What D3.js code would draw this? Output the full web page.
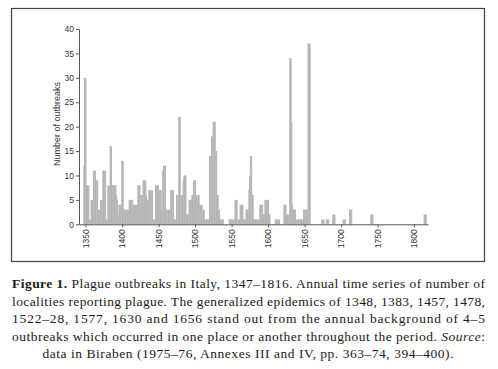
<!DOCTYPE html>
<html>
<head>
<meta charset="utf-8">
<script src="https://cdn.jsdelivr.net/npm/d3@7"></script>
<style>
  body { margin: 0; background: #fff; }
  .axis text { font-family: "Liberation Sans", Arial, sans-serif; font-size: 8.5px; fill: #333; }
  .axis path, .axis line { stroke: #555; }
  .caption { font-family: "Liberation Serif", "Times New Roman", serif; font-size: 13.5px; fill: #1a1a1a; }
</style>
</head>
<body>
<svg width="498" height="369"></svg>
<script>
// plague outbreaks in Italy, one value per year, first year 1347 (10 years per row)
const firstYear = 1347;
const outbreaks = [
  12,30,30,30,8,8,8,8,1,1,      // 1347
  5,5,5,11,11,11,11,9,9,9,      // 1357
  3,3,3,5,5,5,11,11,11,11,      // 1367
  11,1,1,8,8,8,16,16,16,8,      // 1377
  8,8,8,8,8,6,5,2,4,4,          // 1387
  4,4,13,13,13,3,3,3,3,3,       // 1397
  3,3,5,5,5,5,5,5,4,4,          // 1407
  4,4,4,4,8,8,8,8,6,6,          // 1417
  6,9,9,9,9,9,6,5,5,7,          // 1427
  7,7,7,7,7,1,1,1,8,8,          // 1437
  8,8,8,7,7,7,7,3,11,12,        // 1447
  12,12,12,3,3,3,3,3,3,7,       // 1457
  7,7,7,7,1,1,1,6,6,6,          // 1467
  22,22,22,6,6,6,9,10,10,10,    // 1477
  10,2,2,2,5,5,5,5,6,6,         // 1487
  9,9,9,9,6,6,6,6,6,4,          // 1497
  4,4,4,3,3,3,1,1,1,1,          // 1507
  1,1,14,14,14,18,18,21,21,21,  // 1517
  21,15,15,6,6,3,3,1,1,1,       // 1527
  1,1,0,0,0,0,0,0,0,1,          // 1537
  1,1,1,1,1,1,1,5,5,5,          // 1547
  5,1,1,1,4,4,4,4,4,1,          // 1557
  1,1,3,3,3,3,7,10,14,14,       // 1567
  14,6,6,1,1,1,1,1,1,1,         // 1577
  1,4,4,4,4,4,2,2,5,5,          // 1587
  5,5,5,5,2,2,0,0,0,0,          // 1597
  0,0,1,1,1,1,1,1,1,0,          // 1607
  0,0,0,0,4,4,4,4,2,2,          // 1617
  2,2,34,34,34,21,4,3,3,3,      // 1627
  3,1,1,1,1,1,1,1,1,1,          // 1637
  1,3,3,3,3,3,3,37,37,37,       // 1647
  37,0,0,0,0,0,0,0,0,0,         // 1657
  0,0,0,0,0,0,1,1,1,1,          // 1667
  0,0,1,1,1,1,0,0,0,0,          // 1677
  0,2,2,2,2,0,0,0,0,0,          // 1687
  0,0,0,0,0,1,1,1,1,0,          // 1697
  0,0,0,0,3,3,3,3,0,0,          // 1707
  0,0,0,0,0,0,0,0,0,0,          // 1717
  0,0,0,0,0,0,0,0,0,0,          // 1727
  0,0,0,2,2,2,2,0,0,0,          // 1737
  0,0,0,0,0,0,0,0,0,0,          // 1747
  0,0,0,0,0,0,0,0,0,0,          // 1757
  0,0,0,0,0,0,0,0,0,0,          // 1767
  0,0,0,0,0,0,0,0,0,0,          // 1777
  0,0,0,0,0,0,0,0,0,0,          // 1787
  0,0,0,0,0,0,0,0,0,0,          // 1797
  0,0,0,0,0,0,2,2,2,2           // 1807
];

const xTicks = [1350, 1400, 1450, 1500, 1550, 1600, 1650, 1700, 1750, 1800];
const yTicks = [0, 5, 10, 15, 20, 25, 30, 35, 40];

const captionLines = [
  [["Figure 1.", "bold"], [" Plague outbreaks in Italy, 1347–1816. Annual time series of number of", ""]],
  [["localities reporting plague. The generalized epidemics of 1348, 1383, 1457, 1478,", ""]],
  [["1522–28, 1577, 1630 and 1656 stand out from the annual background of 4–5", ""]],
  [["outbreaks which occurred in one place or another throughout the period. ", ""], ["Source", "italic"], [":", ""]],
  [["data in Biraben (1975–76, Annexes III and IV, pp. 363–74, 394–400).", ""]]
];

const data = outbreaks.map((v, i) => ({ year: firstYear + i, value: v }));

const svg = d3.select("svg");

// frame round the chart
svg.append("rect")
    .attr("x", 11.5).attr("y", 8.5)
    .attr("width", 473).attr("height", 253)
    .attr("fill", "none")
    .attr("stroke", "#444")
    .attr("stroke-width", 1.2);

const x = d3.scaleLinear()
    .domain([1341, 1819])
    .range([79, 428]);

const y = d3.scaleLinear()
    .domain([0, 40])
    .range([224.3, 29]);

// bars, one per year
svg.append("g")
    .selectAll("rect")
    .data(data.filter(d => d.value > 0))
    .enter()
    .append("rect")
    .attr("x", d => x(d.year))
    .attr("width", d => x(d.year + 1) - x(d.year) + 0.15)
    .attr("y", d => y(d.value))
    .attr("height", d => y(0) - y(d.value))
    .attr("fill", "#adadad");

const xAxis = svg.append("g")
    .attr("class", "axis")
    .attr("transform", `translate(0, ${y(0)})`)
    .call(d3.axisBottom(x).tickValues(xTicks).tickFormat(d3.format("d")).tickSize(3).tickSizeOuter(0));

xAxis.selectAll("text")
    .attr("transform", "rotate(-90)")
    .attr("text-anchor", "end")
    .attr("x", -5)
    .attr("y", 0)
    .attr("dy", "0.32em");

svg.append("g")
    .attr("class", "axis")
    .attr("transform", `translate(79, 0)`)
    .call(d3.axisLeft(y).tickValues(yTicks).tickSize(3).tickSizeOuter(0).tickPadding(2));

svg.append("text")
    .attr("transform", `translate(60, 124) rotate(-90)`)
    .attr("text-anchor", "middle")
    .attr("font-family", "Liberation Sans, Arial, sans-serif")
    .attr("font-size", 9)
    .attr("fill", "#333")
    .text("Number of outbreaks");

// caption, justified lines
const baselines = [288, 305.5, 323, 341, 358];
captionLines.forEach((parts, i) => {
  const last = i === captionLines.length - 1;
  const t = svg.append("text")
      .attr("class", "caption")
      .attr("x", last ? 248 : 12)
      .attr("y", baselines[i])
      .attr("text-anchor", last ? "middle" : "start")
      .attr("textLength", last ? 411 : 473)
      .attr("lengthAdjust", "spacing");
  parts.forEach(([s, style]) => {
    const sp = t.append("tspan").text(s);
    if (style === "bold") sp.attr("font-weight", "bold");
    if (style === "italic") sp.attr("font-style", "italic");
  });
});
</script>
</body>
</html>
